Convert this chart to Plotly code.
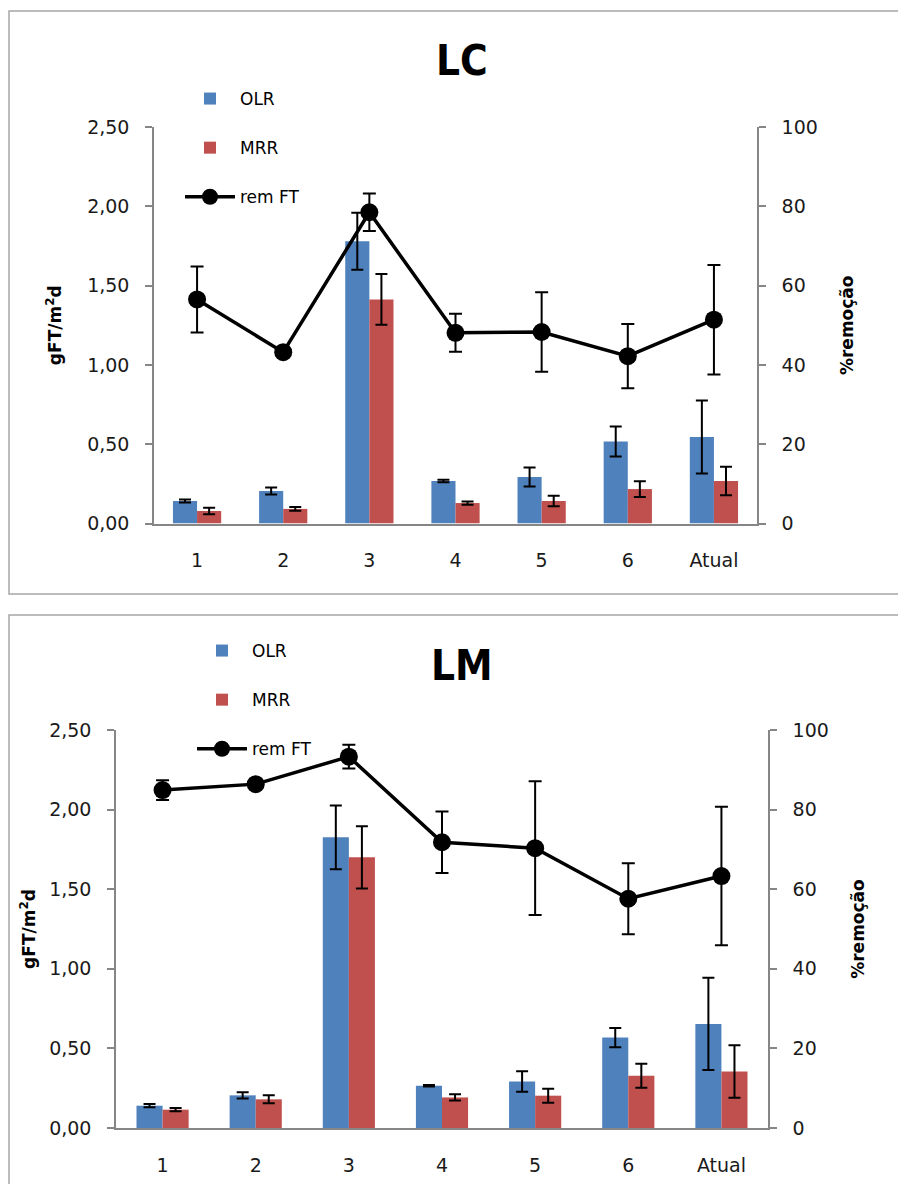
import plotly.graph_objects as go

categories = ["1", "2", "3", "4", "5", "6", "Atual"]

# LC panel
lc_olr = [0.142, 0.205, 1.78, 0.268, 0.293, 0.517, 0.545]
lc_olr_err = [0.010, 0.022, 0.18, 0.008, 0.060, 0.095, 0.23]
lc_mrr = [0.079, 0.092, 1.413, 0.129, 0.142, 0.217, 0.268]
lc_mrr_err = [0.020, 0.012, 0.16, 0.010, 0.033, 0.050, 0.090]
lc_rem = [56.5, 43.2, 78.5, 48.1, 48.3, 42.2, 51.4]
lc_rem_err = [8.3, 0.0, 4.7, 4.8, 10.0, 8.1, 13.8]

# LM panel
lm_olr = [0.140, 0.205, 1.826, 0.265, 0.292, 0.568, 0.654]
lm_olr_err = [0.010, 0.020, 0.20, 0.005, 0.064, 0.060, 0.29]
lm_mrr = [0.115, 0.180, 1.700, 0.192, 0.203, 0.328, 0.355]
lm_mrr_err = [0.010, 0.025, 0.195, 0.020, 0.044, 0.075, 0.165]
lm_rem = [84.9, 86.4, 93.3, 71.8, 70.3, 57.6, 63.3]
lm_rem_err = [2.5, 0.0, 3.0, 7.7, 16.8, 8.9, 17.4]

BLUE = "#4F81BD"
RED = "#C0504D"
FONT = "DejaVu Sans"
TFONT = "Liberation Sans Narrow, DejaVu Sans Condensed, Liberation Sans"
OFF = 8               # default page body margin
W, H = 906 - 2 * OFF, 1192 - 2 * OFF


def px(s):
    return (s - OFF) / W


def py(s):
    return 1 - (s - OFF) / H


def err(vals, w=6):
    return dict(type="data", array=vals, visible=True, color="black", thickness=2, width=w)


fig = go.Figure()

panels = [
    ("x", "y", "y2", "legend", lc_olr, lc_olr_err, lc_mrr, lc_mrr_err, lc_rem, lc_rem_err),
    ("x2", "y3", "y4", "legend2", lm_olr, lm_olr_err, lm_mrr, lm_mrr_err, lm_rem, lm_rem_err),
]
for xa, ya, ya2, lg, olr, olre, mrr, mrre, rem, reme in panels:
    fig.add_trace(go.Bar(x=categories, y=olr, name="OLR", marker_color=BLUE,
                         error_y=err(olre), xaxis=xa, yaxis=ya, legend=lg,
                         legendgroup=lg + "a", marker_line_width=0))
    fig.add_trace(go.Bar(x=categories, y=mrr, name="MRR", marker_color=RED,
                         error_y=err(mrre), xaxis=xa, yaxis=ya, legend=lg,
                         legendgroup=lg + "b", marker_line_width=0))
    fig.add_trace(go.Scatter(x=categories, y=rem, name="rem FT", mode="lines+markers",
                             line=dict(color="black", width=3.5),
                             marker=dict(color="black", size=18),
                             error_y=err(reme, 6.5), xaxis=xa, yaxis=ya2, legend=lg,
                             legendgroup=lg + "c"))

tickfont = dict(family=FONT, size=19, color="#1a1a1a")
titlefont = dict(family=FONT, size=17, color="black")
AXC = "#868686"


def xax(domain, anchor):
    return dict(domain=domain, anchor=anchor, showline=True, linecolor=AXC, linewidth=1.5,
                ticks="", tickfont=tickfont, ticklabelstandoff=19, showgrid=False,
                zeroline=False, automargin=False)


def ylax(domain, anchor, standoff):
    return dict(domain=domain, anchor=anchor, range=[0, 2.5], dtick=0.5, tickformat=".2f",
                showline=True, linecolor=AXC, linewidth=1.5, ticks="outside", ticklen=7,
                tickwidth=1.5, tickcolor=AXC, tickfont=tickfont, showgrid=False,
                zeroline=False, automargin=False, ticklabelstandoff=12,
                title=dict(text="<b>gFT/m<sup>2</sup>d</b>", font=titlefont, standoff=standoff))


def yrax(overlay, anchor, standoff):
    return dict(overlaying=overlay, anchor=anchor, side="right", range=[0, 100], dtick=20,
                showline=True, linecolor=AXC, linewidth=1.5, ticks="outside", ticklen=7,
                tickwidth=1.5, tickcolor=AXC, tickfont=tickfont, showgrid=False,
                zeroline=False, automargin=False, ticklabelstandoff=12,
                title=dict(text="<b>%remoção</b>", font=titlefont, standoff=standoff))


legfont = dict(family=FONT, size=17, color="black")

fig.update_layout(
    width=W, height=H,
    margin=dict(l=0, r=0, t=0, b=0, autoexpand=False),
    paper_bgcolor="white", plot_bgcolor="white",
    separators=",.",
    barmode="group", bargap=0.44, bargroupgap=0.0,
    font=dict(family=FONT, size=16, color="black"),
    xaxis=xax([px(154), px(757)], "y"),
    yaxis=ylax([py(523.5), py(127)], "x", 21),
    yaxis2=yrax("y", "x", 24),
    xaxis2=xax([px(116), px(768)], "y3"),
    yaxis3=ylax([py(1128), py(730)], "x2", 9),
    yaxis4=yrax("y3", "x2", 24),
    legend=dict(x=px(180), y=py(81), xanchor="left", yanchor="top", bgcolor="rgba(0,0,0,0)",
                tracegroupgap=24, itemwidth=50, font=legfont),
    legend2=dict(x=px(192), y=py(633), xanchor="left", yanchor="top", bgcolor="rgba(0,0,0,0)",
                 tracegroupgap=24, itemwidth=50, font=legfont),
    showlegend=True,
    annotations=[
        dict(text="<b>LC</b>", x=px(462.5), y=py(60), xref="paper", yref="paper",
             xanchor="center", yanchor="middle", showarrow=False,
             font=dict(family=TFONT, size=42, color="black")),
        dict(text="<b>LM</b>", x=px(462), y=py(665), xref="paper", yref="paper",
             xanchor="center", yanchor="middle", showarrow=False,
             font=dict(family=TFONT, size=42, color="black")),
    ],
    shapes=[
        dict(type="rect", xref="paper", yref="paper", x0=px(9), x1=1.02, y0=py(594), y1=py(11),
             line=dict(color="#a6a6a6", width=1.5)),
        dict(type="rect", xref="paper", yref="paper", x0=px(9), x1=1.02, y0=-0.02, y1=py(615),
             line=dict(color="#a6a6a6", width=1.5)),
    ],
)

fig.write_html("out.html")
